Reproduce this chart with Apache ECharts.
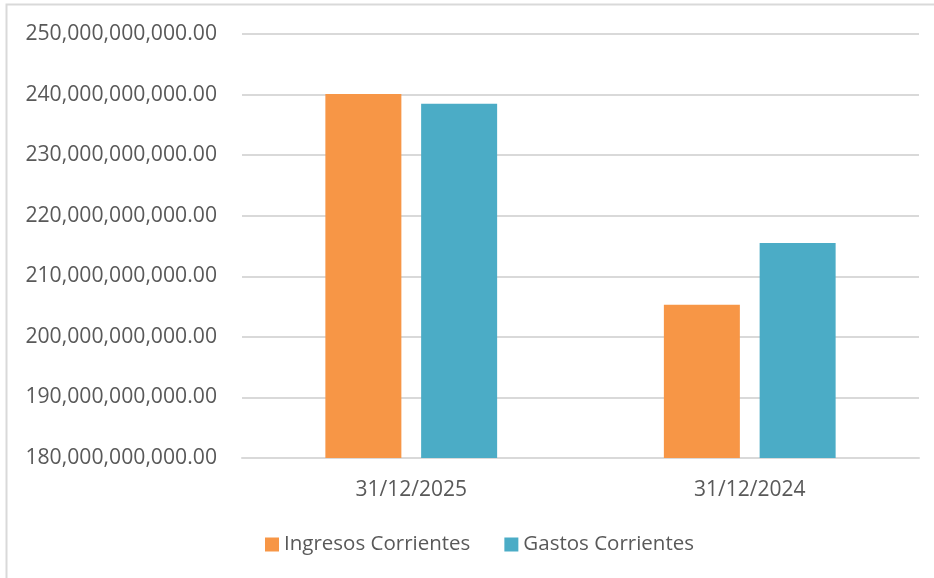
<!DOCTYPE html>
<html>
<head>
<meta charset="utf-8">
<style>html,body{margin:0;padding:0;background:#fff}#c{width:934px;height:578px}</style>
<script src="https://cdn.jsdelivr.net/npm/echarts@6/dist/echarts.min.js"></script>
</head>
<body>
<div id="c"></div>
<script>
var categories = ['31/12/2025', '31/12/2024'];
var ingresos = [240.1e9, 205.3e9];
var gastos = [238.5e9, 215.5e9];
var seriesNames = ['Ingresos Corrientes', 'Gastos Corrientes'];

function fmt(v) {
  var s = Math.round(v).toString();
  return s.replace(/\B(?=(\d{3})+(?!\d))/g, ',') + '.00';
}
var FONT = 'Open Sans';
var chart = echarts.init(document.getElementById('c'), null, {renderer: 'canvas'});
chart.setOption({
  animation: false,
  backgroundColor: '#fff',
  graphic: [{
    type: 'rect', shape: {x: 6.5, y: 4.5, width: 1200, height: 1200},
    style: {fill: 'none', stroke: '#d9d9d9', lineWidth: 2}, silent: true, z: -1
  }],
  grid: {left: 242, right: 15, top: 34, bottom: 120, containLabel: false},
  legend: {
    data: seriesNames, left: 265, top: 534, padding: 0, itemWidth: 14, itemHeight: 14, itemGap: 34,
    icon: 'rect',
    textStyle: {fontFamily: FONT, fontSize: 20.5, color: '#595959'}
  },
  xAxis: {
    type: 'category', data: categories,
    axisLine: {lineStyle: {color: '#d9d9d9', width: 2}},
    axisTick: {show: false},
    axisLabel: {fontFamily: FONT, fontSize: 21, color: '#595959', margin: 22}
  },
  yAxis: {
    type: 'value', min: 180e9, max: 250e9, interval: 10e9,
    axisLine: {show: false}, axisTick: {show: false},
    splitLine: {lineStyle: {color: '#d9d9d9', width: 2}},
    axisLabel: {fontFamily: FONT, fontSize: 21.2, color: '#595959', margin: 25, formatter: fmt}
  },
  series: [
    {name: seriesNames[0], type: 'bar', data: ingresos, barWidth: 76, barGap: '26%',
     itemStyle: {color: '#F79646'}},
    {name: seriesNames[1], type: 'bar', data: gastos, barWidth: 76,
     itemStyle: {color: '#4BACC6'}}
  ]
});
</script>
</body>
</html>
